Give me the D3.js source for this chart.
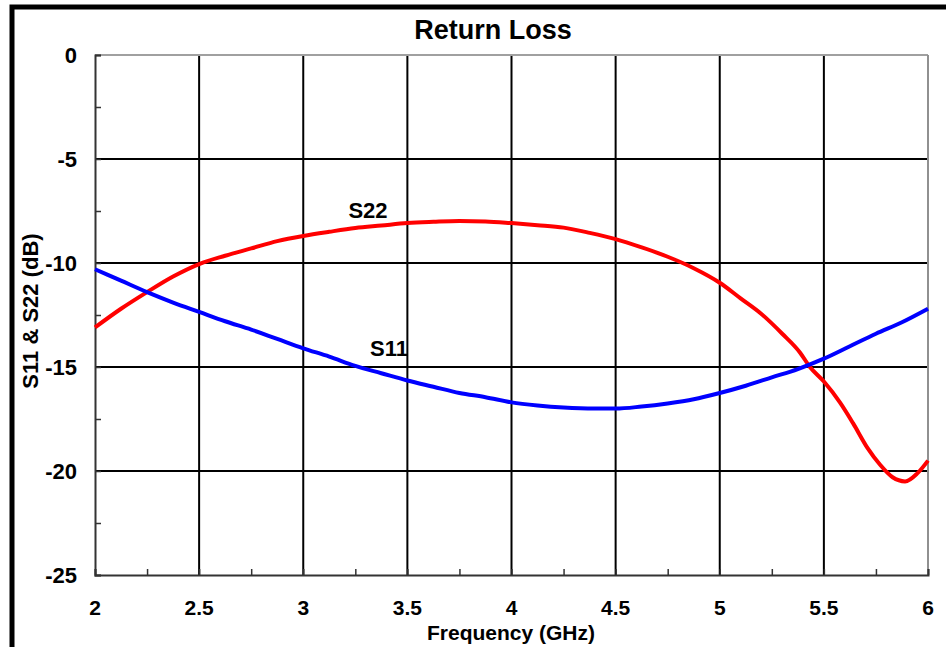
<!DOCTYPE html>
<html><head><meta charset="utf-8">
<script src="https://cdn.jsdelivr.net/npm/d3@7"></script>
<style>
html,body{margin:0;padding:0;background:#fff;}
text{font-family:Arial,"Liberation Sans",sans-serif;font-weight:bold;fill:#000;}
</style></head>
<body>
<svg id="c" width="946" height="647"></svg>
<script>
const title = "Return Loss";
const xLabel = "Frequency (GHz)";
const yLabel = "S11 & S22 (dB)";
const xTicks = [2, 2.5, 3, 3.5, 4, 4.5, 5, 5.5, 6];
const yTicks = [0, -5, -10, -15, -20, -25];
const xMinor = [2.25, 2.75, 3.25, 3.75, 4.25, 4.75, 5.25, 5.75];
const yMinor = [-2.5, -7.5, -12.5, -17.5, -22.5];

const s22Freq = [2, 2.125, 2.25, 2.375, 2.5, 2.625, 2.75, 2.875, 3, 3.125, 3.25, 3.375, 3.5, 3.625, 3.75, 3.875, 4, 4.125, 4.25, 4.375, 4.5, 4.625, 4.75, 4.875, 5, 5.1, 5.2, 5.3, 5.385, 5.433, 5.5, 5.577, 5.64, 5.71, 5.77, 5.83, 5.89, 5.95, 6];
const s22Val  = [-13.1, -12.2, -11.4, -10.65, -10.05, -9.65, -9.3, -8.95, -8.7, -8.5, -8.32, -8.2, -8.08, -8.02, -7.98, -8.0, -8.08, -8.18, -8.3, -8.55, -8.85, -9.25, -9.7, -10.25, -10.95, -11.7, -12.45, -13.4, -14.3, -15.0, -15.7, -16.7, -17.7, -18.9, -19.7, -20.3, -20.5, -20.1, -19.5];

const s11Freq = [2, 2.125, 2.25, 2.375, 2.5, 2.625, 2.75, 2.875, 3, 3.125, 3.25, 3.375, 3.5, 3.625, 3.75, 3.875, 4, 4.125, 4.25, 4.4, 4.5, 4.625, 4.75, 4.875, 5, 5.125, 5.25, 5.375, 5.5, 5.625, 5.75, 5.875, 6];
const s11Val  = [-10.3, -10.85, -11.4, -11.9, -12.35, -12.8, -13.2, -13.65, -14.1, -14.5, -14.95, -15.3, -15.65, -15.95, -16.25, -16.45, -16.7, -16.85, -16.95, -17.0, -17.0, -16.9, -16.75, -16.55, -16.25, -15.9, -15.5, -15.1, -14.6, -14.0, -13.4, -12.85, -12.2];

const svg = d3.select("#c");
const L = 95, R = 928, T = 55, B = 575;
const x = d3.scaleLinear().domain([2, 6]).range([L, R]);
const y = d3.scaleLinear().domain([-25, 0]).range([B, T]);

// outer frame
svg.append("rect").attr("x", 12).attr("y", 7).attr("width", 1000).attr("height", 1000)
  .attr("fill", "none").attr("stroke", "#000").attr("stroke-width", 5);

// grid
const g = svg.append("g");
g.selectAll(".gx").data(xTicks.slice(1, -1)).join("line")
  .attr("x1", d => x(d)).attr("x2", d => x(d)).attr("y1", T).attr("y2", B)
  .attr("stroke", "#000").attr("stroke-width", 2);
g.selectAll(".gy").data(yTicks.slice(1, -1)).join("line")
  .attr("x1", L).attr("x2", R).attr("y1", d => y(d)).attr("y2", d => y(d))
  .attr("stroke", "#000").attr("stroke-width", 2);

// frame top/right light grey
svg.append("line").attr("x1", L).attr("x2", R).attr("y1", T).attr("y2", T).attr("stroke", "#a0a0a0").attr("stroke-width", 2);
svg.append("line").attr("x1", R).attr("x2", R).attr("y1", T).attr("y2", B).attr("stroke", "#909090").attr("stroke-width", 2);

// axes
const xAxis = d3.axisBottom(x).tickValues(xTicks.concat(xMinor)).tickSize(-6).tickFormat("");
const yAxis = d3.axisLeft(y).tickValues(yTicks.concat(yMinor)).tickSize(-6).tickFormat("");
const ga = svg.append("g").attr("transform", `translate(0,${B})`).call(xAxis);
const gy = svg.append("g").attr("transform", `translate(${L},0)`).call(yAxis);
[ga, gy].forEach(a => {
  a.select(".domain").attr("stroke", "#333").attr("stroke-width", 2);
  a.selectAll(".tick line").attr("stroke", "#333").attr("stroke-width", 1.5);
});

// tick labels
svg.append("g").selectAll("text").data(xTicks).join("text")
  .attr("x", d => x(d)).attr("y", 615).attr("text-anchor", "middle")
  .style("font-size", "21px").text(d => d);
svg.append("g").selectAll("text").data(yTicks).join("text")
  .attr("x", 77).attr("y", d => y(d) + 8).attr("text-anchor", "end")
  .style("font-size", "22px").text(d => d);

// lines
const line = d3.line().x(d => x(d[0])).y(d => y(d[1])).curve(d3.curveMonotoneX);
svg.append("path").datum(s22Freq.map((f, i) => [f, s22Val[i]]))
  .attr("d", line).attr("fill", "none").attr("stroke", "#ff0000").attr("stroke-width", 4);
svg.append("path").datum(s11Freq.map((f, i) => [f, s11Val[i]]))
  .attr("d", line).attr("fill", "none").attr("stroke", "#0000ff").attr("stroke-width", 4);

// series labels
svg.append("text").attr("x", 368).attr("y", 218).attr("text-anchor", "middle").style("font-size", "22px").text("S22");
svg.append("text").attr("x", 389).attr("y", 356).attr("text-anchor", "middle").style("font-size", "22px").text("S11");

// titles
svg.append("text").attr("x", 493).attr("y", 39).attr("text-anchor", "middle").style("font-size", "27px").text(title);
svg.append("text").attr("x", 511).attr("y", 640).attr("text-anchor", "middle").style("font-size", "21px").text(xLabel);
svg.append("text").attr("transform", "translate(38,311) rotate(-90)").attr("text-anchor", "middle").style("font-size", "22px").text(yLabel);
</script>
</body></html>
